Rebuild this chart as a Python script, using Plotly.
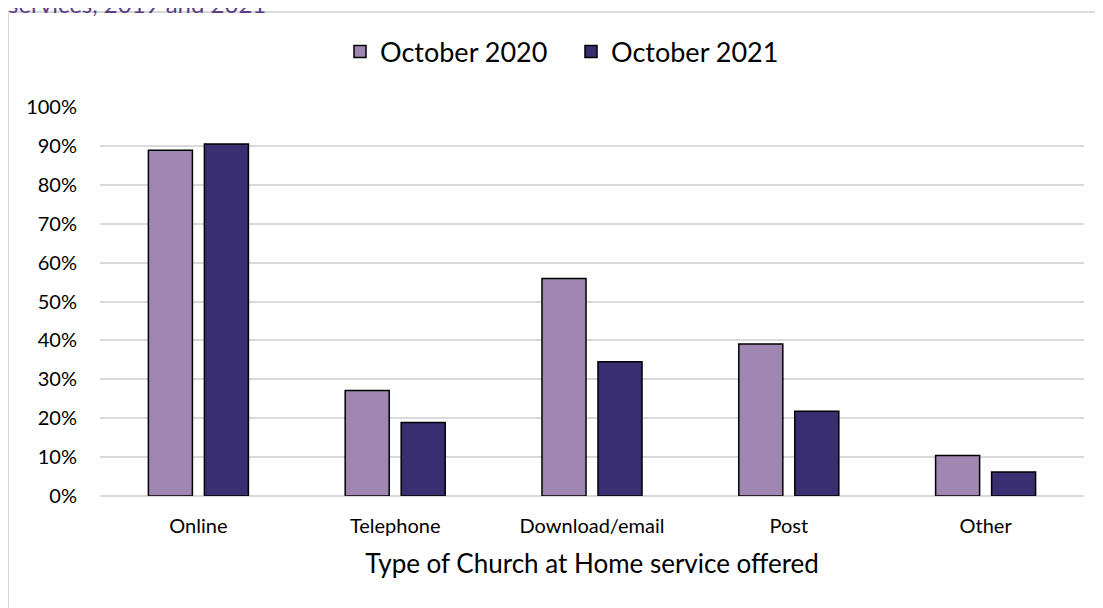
import plotly.graph_objects as go

categories = ["Online", "Telephone", "Download/email", "Post", "Other"]
oct_2020 = [88.9, 27.1, 55.9, 39.1, 10.4]
oct_2021 = [90.5, 18.9, 34.5, 21.8, 6.2]
series_names = ["October 2020", "October 2021"]
y_ticks = [0, 10, 20, 30, 40, 50, 60, 70, 80, 90, 100]
y_tick_labels = [f"{v}%" for v in y_ticks]

# page body has an 8px margin: work in window pixels and shift
OFF = 8
W, H = 1103, 608
PL, PR, PT, PB = 100, 1084, 107, 496   # plot area in window pixels
L = PL - OFF
T = PT - OFF
R = W - (PR - OFF)
B = H - (PB - OFF)
pw, ph = PR - PL, PB - PT

def px_x(p):
    return (p - PL) / pw

def px_y(p):
    return (PB - p) / ph

FONT = "Lato, 'Open Sans', sans-serif"

fig = go.Figure()
fig.add_bar(x=categories, y=oct_2020, name=series_names[0],
            marker=dict(color="#A086B2", line=dict(color="#000000", width=1.5)))
fig.add_bar(x=categories, y=oct_2021, name=series_names[1],
            marker=dict(color="#392E6F", line=dict(color="#000000", width=1.5)))

fig.update_layout(
    width=W, height=H,
    margin=dict(l=L, r=R, t=T, b=B),
    paper_bgcolor="white", plot_bgcolor="white",
    barmode="group", bargap=0.431, bargroupgap=0.214,
    font=dict(family=FONT, color="#000000"),
    showlegend=True,
    legend=dict(orientation="h", x=px_x(340), xanchor="left", y=px_y(52), yanchor="middle",
                font=dict(size=27, family=FONT), itemwidth=30, traceorder="normal",
                entrywidth=186, entrywidthmode="pixels"),
    xaxis=dict(showgrid=False, showline=False, ticks="", tickfont=dict(size=20),
               ticklabelstandoff=16,
               title=dict(text="Type of Church at Home service offered", font=dict(size=26), standoff=18)),
    yaxis=dict(range=[0, 100], tickvals=y_ticks, ticktext=y_tick_labels, tickfont=dict(size=20),
               showgrid=True, gridcolor="#D9D9D9", gridwidth=1.5, zeroline=True,
               zerolinecolor="#D9D9D9", zerolinewidth=2, showline=False, ticks="",
               ticklabelstandoff=22),
    shapes=[dict(type="rect", xref="paper", yref="paper",
                 x0=px_x(8), x1=px_x(1130), y0=px_y(640), y1=px_y(12),
                 line=dict(color="#D9D9D9", width=2), fillcolor="rgba(0,0,0,0)", layer="below")],
    annotations=[dict(text="services, 2019 and 2021", xref="paper", yref="paper",
                      x=px_x(6), y=px_y(20), xanchor="left", yanchor="bottom",
                      showarrow=False, font=dict(size=24, color="#5A3E86", family=FONT))],
)

fig.write_html("out.html")
